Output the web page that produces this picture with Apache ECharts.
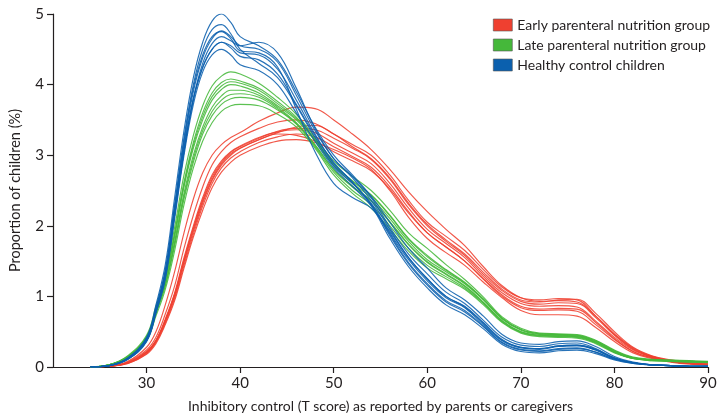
<!DOCTYPE html>
<html>
<head>
<meta charset="utf-8">
<script src="https://cdn.jsdelivr.net/npm/echarts@6/dist/echarts.min.js"></script>
<style>
html,body{margin:0;padding:0;background:#fff;}
#chart{width:722px;height:419px;}
</style>
</head>
<body>
<div id="chart"></div>
<script>
// T score grid shared by all density curves
const X = [24,26,28,30,31,32,33,34,35,36,37,38,39,40,42,44,46,48,50,52,54,56,58,60,62,64,66,68,70,72,74,76,78,80,82,84,86,88,90];

// Early parenteral nutrition group (proportion of children, %)
const EARLY_1 = [0,0.01,0.08,0.28,0.5,0.88,1.35,1.9,2.38,2.75,3.0,3.15,3.25,3.32,3.48,3.6,3.68,3.66,3.5,3.3,3.08,2.8,2.48,2.2,1.95,1.72,1.42,1.15,0.98,0.93,0.94,0.92,0.72,0.47,0.27,0.15,0.09,0.06,0.04];
const EARLY_2 = [0,0.01,0.07,0.24,0.42,0.75,1.15,1.68,2.15,2.55,2.86,3.05,3.18,3.26,3.38,3.47,3.5,3.45,3.3,3.15,3.0,2.72,2.36,2.05,1.85,1.65,1.38,1.13,0.98,0.95,0.97,0.95,0.72,0.46,0.26,0.15,0.09,0.05,0.04];
const EARLY_3 = [0,0.01,0.06,0.22,0.38,0.68,1.05,1.55,2.0,2.4,2.72,2.92,3.05,3.13,3.25,3.33,3.36,3.32,3.17,3.03,2.88,2.6,2.25,1.95,1.75,1.55,1.28,1.05,0.9,0.86,0.87,0.85,0.65,0.42,0.24,0.14,0.08,0.05,0.04];
const EARLY_4 = [0,0.01,0.06,0.2,0.36,0.64,1.0,1.48,1.92,2.32,2.64,2.86,3.0,3.1,3.22,3.3,3.28,3.2,3.05,2.92,2.78,2.52,2.18,1.9,1.7,1.5,1.24,1.0,0.84,0.8,0.81,0.79,0.6,0.39,0.22,0.13,0.08,0.05,0.03];
const EARLY_5 = [0,0.01,0.05,0.18,0.33,0.6,0.94,1.4,1.84,2.22,2.54,2.76,2.9,3.0,3.12,3.2,3.22,3.18,3.08,2.96,2.8,2.5,2.12,1.82,1.62,1.44,1.2,0.98,0.8,0.74,0.74,0.72,0.56,0.36,0.2,0.12,0.07,0.04,0.03];
const EARLY_6 = [0,0.01,0.06,0.21,0.37,0.66,1.02,1.5,1.95,2.35,2.66,2.88,3.02,3.1,3.22,3.32,3.4,3.42,3.3,3.12,2.95,2.68,2.32,2.02,1.8,1.6,1.34,1.1,0.95,0.92,0.95,0.96,0.76,0.5,0.28,0.16,0.1,0.06,0.04];
const EARLY_7 = [0,0.01,0.06,0.21,0.37,0.66,1.03,1.52,1.97,2.37,2.69,2.9,3.04,3.12,3.24,3.34,3.38,3.36,3.24,3.1,2.94,2.66,2.3,2.0,1.78,1.58,1.31,1.08,0.93,0.89,0.91,0.9,0.7,0.45,0.25,0.14,0.08,0.05,0.04];
const EARLY_8 = [0,0.01,0.05,0.19,0.35,0.62,0.97,1.44,1.88,2.28,2.6,2.82,2.96,3.05,3.18,3.26,3.3,3.26,3.12,2.98,2.83,2.55,2.2,1.9,1.7,1.5,1.25,1.02,0.86,0.82,0.83,0.82,0.63,0.4,0.22,0.13,0.08,0.05,0.03];

// Late parenteral nutrition group
const LATE_1 = [0,0.03,0.16,0.45,0.86,1.3,1.98,2.72,3.28,3.7,3.98,4.12,4.18,4.15,4.02,3.82,3.58,3.25,2.92,2.7,2.5,2.22,1.9,1.68,1.45,1.24,0.99,0.71,0.55,0.48,0.47,0.46,0.38,0.24,0.14,0.11,0.1,0.09,0.08];
const LATE_2 = [0,0.03,0.15,0.43,0.82,1.26,1.9,2.62,3.18,3.6,3.88,4.03,4.08,4.05,3.95,3.76,3.54,3.22,2.86,2.64,2.44,2.15,1.82,1.58,1.38,1.2,0.96,0.69,0.53,0.47,0.46,0.45,0.37,0.23,0.13,0.1,0.09,0.08,0.07];
const LATE_3 = [0,0.03,0.15,0.42,0.8,1.22,1.85,2.55,3.1,3.5,3.78,3.93,4.0,3.98,3.88,3.7,3.5,3.2,2.85,2.6,2.4,2.1,1.78,1.52,1.35,1.18,0.95,0.68,0.52,0.46,0.45,0.44,0.36,0.22,0.13,0.1,0.09,0.08,0.07];
const LATE_4 = [0,0.03,0.14,0.4,0.77,1.18,1.78,2.46,3.0,3.4,3.68,3.84,3.92,3.92,3.85,3.68,3.46,3.15,2.8,2.56,2.36,2.06,1.74,1.49,1.32,1.15,0.92,0.66,0.5,0.45,0.44,0.43,0.35,0.21,0.12,0.1,0.09,0.08,0.07];
const LATE_5 = [0,0.03,0.14,0.4,0.76,1.15,1.72,2.38,2.9,3.3,3.56,3.72,3.8,3.82,3.78,3.64,3.44,3.12,2.76,2.5,2.3,2.0,1.68,1.44,1.28,1.12,0.9,0.64,0.49,0.44,0.43,0.42,0.34,0.21,0.12,0.09,0.08,0.07,0.07];
const LATE_6 = [0,0.03,0.13,0.38,0.72,1.1,1.65,2.3,2.82,3.2,3.46,3.62,3.7,3.72,3.7,3.58,3.4,3.1,2.72,2.46,2.25,1.95,1.64,1.4,1.25,1.1,0.88,0.63,0.48,0.43,0.42,0.41,0.33,0.2,0.12,0.09,0.08,0.07,0.06];
const LATE_7 = [0,0.03,0.15,0.42,0.81,1.24,1.88,2.58,3.14,3.55,3.83,3.98,4.04,4.02,3.92,3.73,3.52,3.22,2.88,2.63,2.43,2.14,1.81,1.56,1.37,1.19,0.96,0.69,0.53,0.47,0.46,0.45,0.37,0.23,0.13,0.1,0.09,0.08,0.07];
const LATE_8 = [0,0.03,0.14,0.4,0.76,1.16,1.75,2.42,2.95,3.35,3.62,3.78,3.86,3.87,3.82,3.66,3.45,3.14,2.79,2.55,2.35,2.05,1.73,1.48,1.31,1.14,0.91,0.65,0.5,0.45,0.44,0.43,0.35,0.21,0.12,0.1,0.09,0.08,0.07];

// Healthy control children
const HEALTHY_1 = [0,0.02,0.13,0.42,0.88,1.45,2.4,3.35,4.1,4.6,4.9,5.0,4.88,4.68,4.55,4.35,3.9,3.4,3.0,2.72,2.42,2.05,1.68,1.4,1.12,0.95,0.72,0.46,0.34,0.32,0.36,0.37,0.29,0.15,0.07,0.03,0.02,0.01,0.01];
const HEALTHY_2 = [0,0.02,0.12,0.4,0.84,1.38,2.3,3.25,4.0,4.5,4.78,4.85,4.72,4.5,4.3,4.1,3.7,3.25,2.85,2.6,2.32,1.9,1.52,1.22,0.98,0.84,0.6,0.37,0.27,0.25,0.29,0.3,0.24,0.12,0.06,0.03,0.02,0.01,0.01];
const HEALTHY_3 = [0,0.02,0.11,0.37,0.78,1.28,2.15,3.05,3.8,4.3,4.58,4.68,4.62,4.55,4.6,4.45,3.95,3.38,2.95,2.7,2.4,1.98,1.6,1.32,1.06,0.9,0.66,0.42,0.31,0.29,0.33,0.34,0.26,0.13,0.06,0.03,0.02,0.01,0.01];
const HEALTHY_4 = [0,0.02,0.12,0.39,0.8,1.3,2.2,3.1,3.8,4.25,4.5,4.6,4.52,4.4,4.35,4.15,3.72,3.28,2.9,2.62,2.3,1.86,1.46,1.16,0.92,0.78,0.57,0.34,0.24,0.22,0.25,0.26,0.21,0.11,0.06,0.03,0.02,0.01,0.01];
const HEALTHY_5 = [0,0.02,0.11,0.36,0.76,1.24,2.1,3.0,3.72,4.18,4.42,4.5,4.42,4.28,4.2,4.0,3.6,3.2,2.82,2.56,2.28,1.82,1.42,1.12,0.88,0.74,0.54,0.32,0.22,0.2,0.23,0.24,0.19,0.1,0.05,0.03,0.02,0.01,0.01];
const HEALTHY_6 = [0,0.02,0.12,0.4,0.82,1.35,2.25,3.2,3.95,4.42,4.68,4.75,4.65,4.48,4.45,4.25,3.65,3.05,2.6,2.4,2.25,1.92,1.55,1.25,1.0,0.86,0.63,0.39,0.28,0.26,0.3,0.31,0.25,0.13,0.06,0.03,0.02,0.01,0.01];
const HEALTHY_7 = [0,0.02,0.12,0.39,0.81,1.33,2.25,3.15,3.9,4.38,4.65,4.76,4.68,4.55,4.5,4.32,3.85,3.35,2.95,2.68,2.36,1.95,1.55,1.25,1.0,0.85,0.62,0.38,0.28,0.26,0.3,0.31,0.24,0.12,0.06,0.03,0.02,0.01,0.01];
const HEALTHY_8 = [0,0.02,0.11,0.37,0.78,1.27,2.15,3.05,3.78,4.24,4.5,4.6,4.55,4.45,4.42,4.22,3.78,3.3,2.88,2.62,2.3,1.88,1.48,1.18,0.94,0.8,0.58,0.35,0.25,0.23,0.26,0.27,0.21,0.11,0.05,0.03,0.02,0.01,0.01];

const X_TICKS = [30,40,50,60,70,80,90];
const Y_TICKS = [0,1,2,3,4,5];

const GROUPS = [
  {name:'Early parenteral nutrition group', color:'#ef4030', curves:[EARLY_1,EARLY_2,EARLY_3,EARLY_4,EARLY_5,EARLY_6,EARLY_7,EARLY_8]},
  {name:'Late parenteral nutrition group', color:'#45b83a', curves:[LATE_1,LATE_2,LATE_3,LATE_4,LATE_5,LATE_6,LATE_7,LATE_8]},
  {name:'Healthy control children', color:'#0b60ae', curves:[HEALTHY_1,HEALTHY_2,HEALTHY_3,HEALTHY_4,HEALTHY_5,HEALTHY_6,HEALTHY_7,HEALTHY_8]}
];

const FONT = 'Lato';
const INK = '#231f20';

const series = [];
GROUPS.forEach(g => {
  g.curves.forEach(c => {
    series.push({
      type:'line',
      name:g.name,
      data:X.map((x,i)=>[x,c[i]]),
      smooth:0.4,
      showSymbol:false,
      symbol:'none',
      lineStyle:{color:g.color,width:1.15,opacity:0.88},
      itemStyle:{color:g.color},
      emphasis:{disabled:true},
      animation:false
    });
  });
});

const chart = echarts.init(document.getElementById('chart'));
chart.setOption({
  backgroundColor:'#fff',
  animation:false,
  grid:{left:52,right:14,top:14,bottom:52,containLabel:false},
  legend:{
    orient:'vertical',left:488,top:13,itemWidth:19,itemHeight:12,itemGap:6,icon:'rect',
    textStyle:{fontFamily:FONT,fontSize:14,color:INK},
    data:GROUPS.map(g=>({name:g.name,itemStyle:{color:g.color,borderColor:'#555',borderWidth:0.6}}))
  },
  xAxis:{
    type:'value',min:20,max:90,interval:10,
    name:'Inhibitory control (T score) as reported by parents or caregivers',
    nameLocation:'middle',nameGap:32,
    nameTextStyle:{fontFamily:FONT,fontSize:14,color:INK},
    axisLine:{show:true,onZero:false,lineStyle:{color:INK,width:1.2}},
    axisTick:{show:true,length:6,customValues:X_TICKS,lineStyle:{color:INK,width:1.2}},
    axisLabel:{customValues:X_TICKS,fontFamily:FONT,fontSize:15,color:INK,margin:9},
    splitLine:{show:false}
  },
  yAxis:{
    type:'value',min:0,max:5,interval:1,
    name:'Proportion of children (%)',
    nameLocation:'middle',nameGap:30,
    nameTextStyle:{fontFamily:FONT,fontSize:14.5,color:INK},
    axisLine:{show:true,lineStyle:{color:INK,width:1.2}},
    axisTick:{show:true,length:6,customValues:Y_TICKS,lineStyle:{color:INK,width:1.2}},
    axisLabel:{customValues:Y_TICKS,fontFamily:FONT,fontSize:15,color:INK,margin:9},
    splitLine:{show:false}
  },
  series:series
});
</script>
</body>
</html>
